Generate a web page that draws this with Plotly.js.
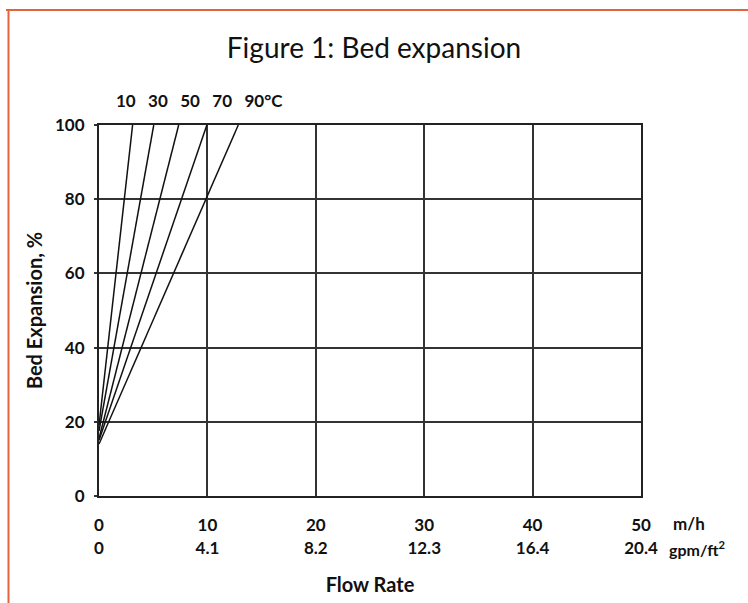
<!DOCTYPE html>
<html>
<head>
<meta charset="utf-8">
<script src="https://cdn.plot.ly/plotly-3.0.1.min.js"></script>
<style>
  html, body { margin: 0; padding: 0; background: #fff; }
  #chart { width: 748px; height: 603px; }
</style>
</head>
<body>
<div id="chart"></div>
<script>
// Water temperatures (°C) of each curve
const temperatures = [10, 30, 50, 70, 90];
// Bed expansion (%) at zero flow for each temperature curve
const expansionAtZeroFlow = [19, 17.5, 15.5, 15, 14];
// Flow rate (m/h) where each curve reaches 100 % expansion
const flowAtFullExpansion = [3.1, 5.05, 7.35, 9.95, 12.85];
// Axis ticks
const flowTicks = [0, 10, 20, 30, 40, 50];
const flowTickLabels = ['0', '10', '20', '30', '40', '50'];
const gpmTickLabels = ['0', '4.1', '8.2', '12.3', '16.4', '20.4'];
const expansionTicks = [0, 20, 40, 60, 80, 100];

const FONT = 'Lato, "Open Sans", sans-serif';
const ORANGE = '#E2643C';

const traces = temperatures.map((t, i) => ({
  type: 'scatter',
  mode: 'lines',
  name: t + '°C',
  x: [0, flowAtFullExpansion[i]],
  y: [expansionAtZeroFlow[i], 100],
  line: { color: '#111', width: 1.5 },
  showlegend: false,
  hoverinfo: 'x+y+name'
}));

// invisible trace to carry the secondary (gpm/ft²) axis
traces.push({
  type: 'scatter',
  mode: 'lines',
  x: [flowTicks[0], flowTicks[flowTicks.length - 1]],
  y: [0, 0],
  xaxis: 'x2',
  yaxis: 'y',
  line: { width: 0, color: 'rgba(0,0,0,0)' },
  showlegend: false,
  hoverinfo: 'skip'
});

const tempLabel = temperatures.map(String).join('\u00A0\u00A0\u00A0') + '°C';

const layout = {
  width: 748,
  height: 603,
  margin: { l: 99, r: 107, t: 125, b: 107 },
  paper_bgcolor: '#fff',
  plot_bgcolor: '#fff',
  font: { family: FONT, color: '#111' },
  title: {
    text: 'Figure 1: Bed expansion',
    font: { family: FONT, size: 28, color: '#111' },
    x: 0.5, xanchor: 'center',
    y: 1 - 48 / 603, yanchor: 'middle'
  },
  xaxis: {
    range: [0, 50],
    tickvals: flowTicks,
    ticktext: flowTickLabels,
    ticks: '',
    ticklabelstandoff: 13,
    tickfont: { family: FONT, size: 17, color: '#111', weight: 'bold' },
    showgrid: true,
    gridcolor: '#333',
    gridwidth: 2,
    zeroline: false,
    showline: true,
    linecolor: '#222',
    linewidth: 2,
    mirror: true,
    fixedrange: true
  },
  xaxis2: {
    range: [0, 50],
    overlaying: 'x',
    side: 'bottom',
    anchor: 'y',
    tickvals: flowTicks,
    ticktext: gpmTickLabels,
    ticks: '',
    ticklabelstandoff: 40,
    tickfont: { family: FONT, size: 17, color: '#111', weight: 'bold' },
    showgrid: false,
    zeroline: false,
    showline: false,
    fixedrange: true,
    title: {
      text: 'Flow Rate',
      font: { family: FONT, size: 20, color: '#111', weight: 'bold' },
      standoff: 20
    }
  },
  yaxis: {
    range: [0, 100],
    tickvals: expansionTicks,
    ticks: 'outside',
    ticklen: 3,
    tickwidth: 2,
    tickcolor: '#333',
    ticklabelstandoff: 6,
    tickfont: { family: FONT, size: 17, color: '#111', weight: 'bold' },
    showgrid: true,
    gridcolor: '#333',
    gridwidth: 2,
    zeroline: false,
    showline: true,
    linecolor: '#222',
    linewidth: 2,
    mirror: true,
    fixedrange: true,
    title: {
      text: 'Bed Expansion, %',
      font: { family: FONT, size: 20, color: '#111', weight: 'bold' },
      standoff: 7
    }
  },
  annotations: [
    {
      xref: 'paper', yref: 'paper',
      x: (114 - 99) / 542, y: (496 - 100) / 371,
      xanchor: 'left', yanchor: 'middle',
      text: tempLabel, showarrow: false,
      font: { family: FONT, size: 17, color: '#111', weight: 'bold' }
    },
    {
      xref: 'paper', yref: 'paper',
      x: (671 - 99) / 542, y: (496 - 523) / 371,
      xanchor: 'left', yanchor: 'middle',
      text: 'm/h', showarrow: false,
      font: { family: FONT, size: 17, color: '#111', weight: 'bold' }
    },
    {
      xref: 'paper', yref: 'paper',
      x: (667 - 99) / 542, y: (496 - 548) / 371,
      xanchor: 'left', yanchor: 'middle',
      text: 'gpm/ft<sup>2</sup>', showarrow: false,
      font: { family: FONT, size: 16, color: '#111', weight: 'bold' }
    }
  ],
  shapes: [
    {
      type: 'line', xref: 'paper', yref: 'paper',
      x0: (6 - 99) / 542, x1: (760 - 99) / 542,
      y0: (496 - 10) / 371, y1: (496 - 10) / 371,
      line: { color: ORANGE, width: 2 }
    },
    {
      type: 'line', xref: 'paper', yref: 'paper',
      x0: (8.5 - 99) / 542, x1: (8.5 - 99) / 542,
      y0: (496 - 10) / 371, y1: (496 - 620) / 371,
      line: { color: ORANGE, width: 2 }
    }
  ]
};

Plotly.newPlot('chart', traces, layout, { displayModeBar: false, staticPlot: true });
</script>
</body>
</html>
